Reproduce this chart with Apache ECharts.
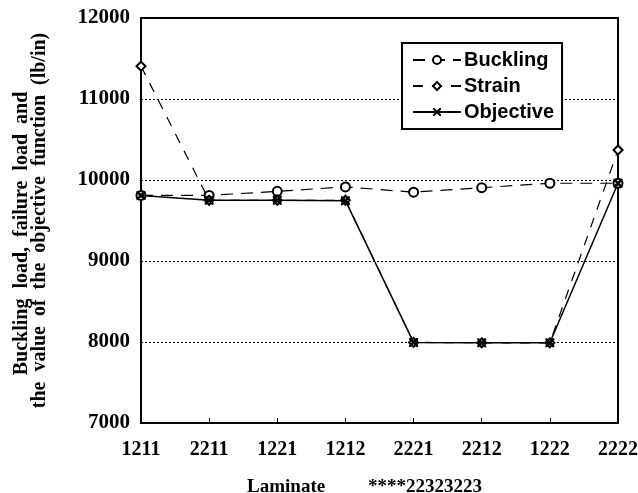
<!DOCTYPE html>
<html>
<head>
<meta charset="utf-8">
<script src="https://cdn.jsdelivr.net/npm/echarts@6/dist/echarts.min.js"></script>
<style>
html,body{margin:0;padding:0;background:#fff;}
#chart{width:638px;height:493px;}
</style>
</head>
<body>
<div id="chart"></div>
<script>
const categories = ['1211','2211','1221','1212','2221','2212','1222','2222'];
const buckling  = [9810, 9810, 9860, 9915, 9850, 9905, 9960, 9960];
const strain    = [11405, 9750, 9750, 9750, 7995, 7990, 7990, 10370];
const objective = [9810, 9750, 9750, 9745, 7995, 7990, 7990, 9960];
const yTicks = [7000, 8000, 9000, 10000, 11000, 12000];
const yTitleLines = ['Buckling  load,  failure  load  and', 'the  value  of  the  objective  function  (lb/in)'];

const serif = "'Liberation Serif','Times New Roman',serif";
const sans = "'Liberation Sans',Arial,sans-serif";
const xSymbol = 'path://M0,0L2,0L5,3L8,0L10,0L10,2L7,5L10,8L10,10L8,10L5,7L2,10L0,10L0,8L3,5L0,2Z';

const chart = echarts.init(document.getElementById('chart'), null, {renderer:'canvas'});
chart.setOption({
  animation: false,
  backgroundColor: '#fff',
  grid: {left: 141, right: 20, top: 18, bottom: 70, outerBoundsMode: 'none', containLabel: false,
    show: true, borderColor: '#000', borderWidth: 2, backgroundColor: 'transparent'},
  legend: {
    orient: 'vertical', left: 402, top: 43,
    padding: [7, 8, 7, 10], itemGap: 6,
    itemWidth: 48, itemHeight: 10,
    borderColor: '#000', borderWidth: 2, backgroundColor: '#fff',
    textStyle: {fontFamily: sans, fontWeight: 'bold', fontSize: 20, color: '#000', lineHeight: 20, padding: [0,0,0,-2]},
    data: ['Buckling', 'Strain', 'Objective']
  },
  xAxis: {
    type: 'category', data: categories, boundaryGap: false,
    name: 'Laminate         ****22323223', nameLocation: 'middle', nameGap: 55,
    nameTextStyle: {fontFamily: serif, fontWeight: 'bold', fontSize: 19, color: '#000', padding: [0, 30, 0, 0]},
    axisLine: {lineStyle: {color: '#000', width: 2}},
    axisTick: {show: true, inside: true, length: 5, lineStyle: {color: '#000'}},
    axisLabel: {fontFamily: serif, fontWeight: 'bold', fontSize: 20, color: '#000', margin: 17, showMaxLabel: true, showMinLabel: true},
    splitLine: {show: false}
  },
  yAxis: [{
    type: 'value', min: yTicks[0], max: yTicks[yTicks.length-1], interval: 1000, position: 'left', offset: 0,
    name: yTitleLines[1],
    nameLocation: 'middle', nameGap: 91,
    nameTextStyle: {fontFamily: serif, fontWeight: 'bold', fontSize: 20, color: '#000', lineHeight: 20},
    axisLine: {show: true, lineStyle: {color: '#000', width: 2}},
    axisTick: {show: false},
    axisLabel: {fontFamily: serif, fontWeight: 'bold', fontSize: 21, color: '#000', margin: 11,
      formatter: function (v) { return String(v); }},
    splitLine: {show: true, lineStyle: {color: '#000', width: 1, type: [2, 2]}}
  }, {
    type: 'value', min: yTicks[0], max: yTicks[yTicks.length-1], interval: 1000, position: 'left', offset: 0,
    name: yTitleLines[0],
    nameLocation: 'middle', nameGap: 109,
    nameTextStyle: {fontFamily: serif, fontWeight: 'bold', fontSize: 20, color: '#000', lineHeight: 20, padding: [0, 26, 0, 0]},
    axisLine: {show: false}, axisTick: {show: false}, axisLabel: {show: false}, splitLine: {show: false}
  }],
  series: [
    {name: 'Buckling', type: 'line', data: buckling, symbol: 'emptyCircle', symbolSize: 9,
     lineStyle: {color: '#000', width: 1.2, type: [12, 8]}, itemStyle: {color: '#000', borderWidth: 1.2}, z: 2},
    {name: 'Strain', type: 'line', data: strain, symbol: 'emptyDiamond', symbolSize: 9,
     lineStyle: {color: '#000', width: 1.2, type: [10, 9]}, itemStyle: {color: '#000', borderWidth: 1.2}, z: 3},
    {name: 'Objective', type: 'line', data: objective, symbol: xSymbol, symbolSize: 9,
     lineStyle: {color: '#000', width: 1.5, type: 'solid'}, itemStyle: {color: '#000'}, z: 4}
  ]
});
</script>
</body>
</html>
